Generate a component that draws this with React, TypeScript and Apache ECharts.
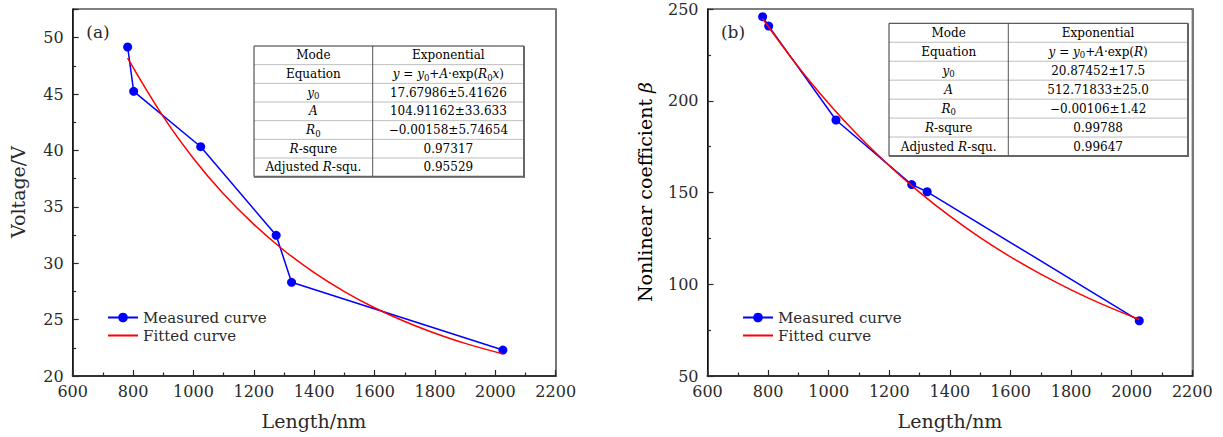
import React, { useEffect, useRef } from 'react';
import * as echarts from 'echarts';

// ---------- data ----------
const lengthNm = [782, 802, 1024, 1274, 1325, 2025];
const voltage = [49.17, 45.24, 40.33, 32.47, 28.31, 22.3];
const beta = [245.8, 240.7, 189.5, 154.3, 150.4, 80.1];

const fitLength = [782, 900, 1000, 1100, 1200, 1300, 1400, 1500, 1600, 1700, 1800, 1900, 2025];
const fitVoltage = [48.18, 42.99, 39.29, 36.13, 33.44, 31.13, 29.17, 27.49, 26.05, 24.83, 23.79, 22.89, 21.96];
const fitBeta = [244.7, 218.4, 198.5, 180.6, 164.6, 150.1, 137.1, 125.4, 114.9, 105.5, 96.95, 89.3, 80.8];

const xTicks = { min: 600, max: 2200, interval: 200 };
const yTicksA = { min: 20, max: 52.54, interval: 5 };
const yTicksB = { min: 50, max: 250, interval: 50 };

const seriesNames = ['Measured curve', 'Fitted curve'];

const tableLabels = [
  '{n|Mode}',
  '{n|Equation}',
  '{i|y}{s|0}',
  '{i|A}',
  '{i|R}{s|0}',
  '{i|R}{n|-squre}',
  '{n|Adjusted }{i|R}{n|-squ.}',
];
const tableValuesA = [
  '{n|Exponential}',
  '{i|y}{n| = }{i|y}{s|0}{n|+}{i|A}{n|·exp(}{i|R}{s|0}{i|x}{n|)}',
  '{n|17.67986±5.41626}',
  '{n|104.91162±33.633}',
  '{n|−0.00158±5.74654}',
  '{n|0.97317}',
  '{n|0.95529}',
];
const tableValuesB = [
  '{n|Exponential}',
  '{i|y}{n| = }{i|y}{s|0}{n|+}{i|A}{n|·exp(}{i|R}{n|)}',
  '{n|20.87452±17.5}',
  '{n|512.71833±25.0}',
  '{n|−0.00106±1.42}',
  '{n|0.99788}',
  '{n|0.99647}',
];

// ---------- style ----------
const FF = "'DejaVu Serif', serif";
const INK = '#2a2a2a';

const richTable = {
  n: { fontFamily: FF, fontSize: 12, color: INK, lineHeight: 16, verticalAlign: 'middle' },
  i: { fontFamily: FF, fontSize: 12, fontStyle: 'italic', color: INK, lineHeight: 16, verticalAlign: 'middle' },
  s: { fontFamily: FF, fontSize: 8.5, color: INK, lineHeight: 10, verticalAlign: 'bottom' },
};

function buildTable(x0: number, y0: number, w: number, h: number, divX: number, values: string[]) {
  const rows = tableLabels.length;
  const rh = h / rows;
  const els: any[] = [];
  els.push({ type: 'rect', shape: { x: x0, y: y0, width: w, height: h }, style: { fill: '#fff', stroke: 'none' }, z: 10 });
  for (let r = 1; r < rows; r++) {
    els.push({
      type: 'line',
      shape: { x1: x0, y1: y0 + r * rh, x2: x0 + w, y2: y0 + r * rh },
      style: { stroke: '#bdbdbd', lineWidth: 1 },
      z: 11,
    });
  }
  els.push({ type: 'line', shape: { x1: divX, y1: y0, x2: divX, y2: y0 + h }, style: { stroke: '#555', lineWidth: 1 }, z: 12 });
  els.push({ type: 'rect', shape: { x: x0, y: y0, width: w, height: h }, style: { fill: 'none', stroke: '#333', lineWidth: 1 }, z: 12 });
  els.push({ type: 'line', shape: { x1: x0 + w, y1: y0, x2: x0 + w, y2: y0 + h + 1 }, style: { stroke: '#666', lineWidth: 2 }, z: 13 });
  els.push({ type: 'line', shape: { x1: x0, y1: y0 + h, x2: x0 + w + 1, y2: y0 + h }, style: { stroke: '#666', lineWidth: 2 }, z: 13 });
  for (let r = 0; r < rows; r++) {
    const cy = y0 + (r + 0.5) * rh;
    els.push({
      type: 'text', z: 14,
      style: { text: tableLabels[r], rich: richTable, x: (x0 + divX) / 2, y: cy, align: 'center', verticalAlign: 'middle', textAlign: 'center', textVerticalAlign: 'middle' },
    });
    els.push({
      type: 'text', z: 14,
      style: { text: values[r], rich: richTable, x: (divX + x0 + w) / 2, y: cy, align: 'center', verticalAlign: 'middle', textAlign: 'center', textVerticalAlign: 'middle' },
    });
  }
  return els;
}

function xAxisCfg(gridIndex: number) {
  return {
    type: 'value', gridIndex, ...xTicks,
    axisLine: { show: true, onZero: false, lineStyle: { color: '#333', width: 2 } },
    axisTick: { show: true, inside: true, length: 6, lineStyle: { color: INK, width: 1.2 } },
    minorTick: { show: true, splitNumber: 2, length: 3.5, lineStyle: { color: INK, width: 1.2 } },
    axisLabel: { fontFamily: FF, fontSize: 16, color: INK, margin: 7, formatter: (v: number) => String(v) },
    splitLine: { show: false },
    minorSplitLine: { show: false },
  };
}

function yAxisCfg(gridIndex: number, t: { min: number; max: number; interval: number }) {
  return {
    type: 'value', gridIndex, ...t,
    axisLine: { show: true, onZero: false, lineStyle: { color: '#111', width: 1.5 } },
    axisTick: { show: true, inside: true, length: 6, lineStyle: { color: INK, width: 1.2 } },
    minorTick: { show: true, splitNumber: 2, length: 3.5, lineStyle: { color: INK, width: 1.2 } },
    axisLabel: {
      fontFamily: FF, fontSize: 16, color: INK, margin: 9, showMaxLabel: t.max % t.interval === 0,
      formatter: (v: number) => (Math.abs(v / t.interval - Math.round(v / t.interval)) < 1e-6 ? String(v) : ''),
    },
    splitLine: { show: false },
  };
}

function borderAxis(gridIndex: number, t: { min: number; max: number; interval: number }) {
  return {
    type: 'value', gridIndex, position: 'right', ...t,
    axisLine: { show: true, onZero: false, lineStyle: { color: '#777', width: 2 } },
    axisTick: { show: false }, axisLabel: { show: false }, splitLine: { show: false },
  };
}

function zip(a: number[], b: number[]) {
  return a.map((v, i) => [v, b[i]]);
}

function legendCfg(left: number) {
  return {
    left, top: 310, orient: 'vertical', itemWidth: 30, itemHeight: 12, itemGap: 3, padding: 0,
    data: [
      { name: seriesNames[0] },
      { name: seriesNames[1], itemStyle: { opacity: 0 } },
    ],
    textStyle: { fontFamily: FF, fontSize: 15, color: INK, lineHeight: 12 },
  };
}

export default function App() {
  const ref = useRef<HTMLDivElement>(null);
  useEffect(() => {
    if (!ref.current) return;
    const chart = echarts.init(ref.current, undefined, { renderer: 'svg' });
    const titleStyle = { fontFamily: FF, fontSize: 19, fill: INK, align: 'center', verticalAlign: 'middle', textAlign: 'center', textVerticalAlign: 'middle' };
    chart.setOption({
      animation: false,
      backgroundColor: '#fff',
      grid: [
        { left: 72.7, top: 9, width: 483, height: 367, show: true, borderColor: '#000', borderWidth: 1, backgroundColor: 'transparent' },
        { left: 707.5, top: 9, width: 484.8, height: 367, show: true, borderColor: '#000', borderWidth: 1, backgroundColor: 'transparent' },
      ],
      xAxis: [xAxisCfg(0), xAxisCfg(1)],
      yAxis: [yAxisCfg(0, yTicksA), yAxisCfg(1, yTicksB), borderAxis(0, yTicksA), borderAxis(1, yTicksB)],
      legend: [legendCfg(107), legendCfg(742)],
      series: [
        {
          type: 'line', name: seriesNames[0], xAxisIndex: 0, yAxisIndex: 0, data: zip(lengthNm, voltage),
          symbol: 'circle', symbolSize: 9, color: '#0000ff', lineStyle: { width: 1.5, color: '#0000ff' }, z: 3,
        },
        {
          type: 'line', name: seriesNames[1], xAxisIndex: 0, yAxisIndex: 0, data: zip(fitLength, fitVoltage),
          smooth: 0.4, symbol: 'none', color: '#ff0000', lineStyle: { width: 1.5, color: '#ff0000' }, z: 4,
        },
        {
          type: 'line', name: seriesNames[0], xAxisIndex: 1, yAxisIndex: 1, data: zip(lengthNm, beta),
          symbol: 'circle', symbolSize: 9, color: '#0000ff', lineStyle: { width: 1.5, color: '#0000ff' }, z: 3,
        },
        {
          type: 'line', name: seriesNames[1], xAxisIndex: 1, yAxisIndex: 1, data: zip(fitLength, fitBeta),
          smooth: 0.4, symbol: 'none', color: '#ff0000', lineStyle: { width: 1.5, color: '#ff0000' }, z: 4,
        },
      ],
      graphic: [
        { type: 'text', style: { text: '(a)', x: 98, y: 32, fontFamily: FF, fontSize: 17, fill: INK, align: 'center', verticalAlign: 'middle', textAlign: 'center', textVerticalAlign: 'middle' } },
        { type: 'text', style: { text: '(b)', x: 733, y: 32, fontFamily: FF, fontSize: 17, fill: INK, align: 'center', verticalAlign: 'middle', textAlign: 'center', textVerticalAlign: 'middle' } },
        { type: 'text', style: { text: 'Length/nm', x: 314, y: 421, ...titleStyle } },
        { type: 'text', style: { text: 'Length/nm', x: 950, y: 421, ...titleStyle } },
        { type: 'text', x: 18, y: 192, rotation: Math.PI / 2, style: { text: 'Voltage/V', x: 0, y: 0, ...titleStyle } },
        {
          type: 'text', x: 645, y: 192, rotation: Math.PI / 2,
          style: {
            text: '{n|Nonlinear coefficient }{i|β}', x: 0, y: 0, align: 'center', verticalAlign: 'middle', textAlign: 'center', textVerticalAlign: 'middle',
            rich: {
              n: { fontFamily: FF, fontSize: 19, color: INK },
              i: { fontFamily: FF, fontSize: 19, fontStyle: 'italic', color: INK },
            },
          },
        },
        ...buildTable(254, 46, 270, 130.7, 372.7, tableValuesA),
        ...buildTable(889, 23.3, 299, 132.7, 1008.3, tableValuesB),
      ],
    });
    return () => chart.dispose();
  }, []);
  return <div ref={ref} style={{ position: 'fixed', left: 0, top: 0, width: 1223, height: 437 }} />;
}
